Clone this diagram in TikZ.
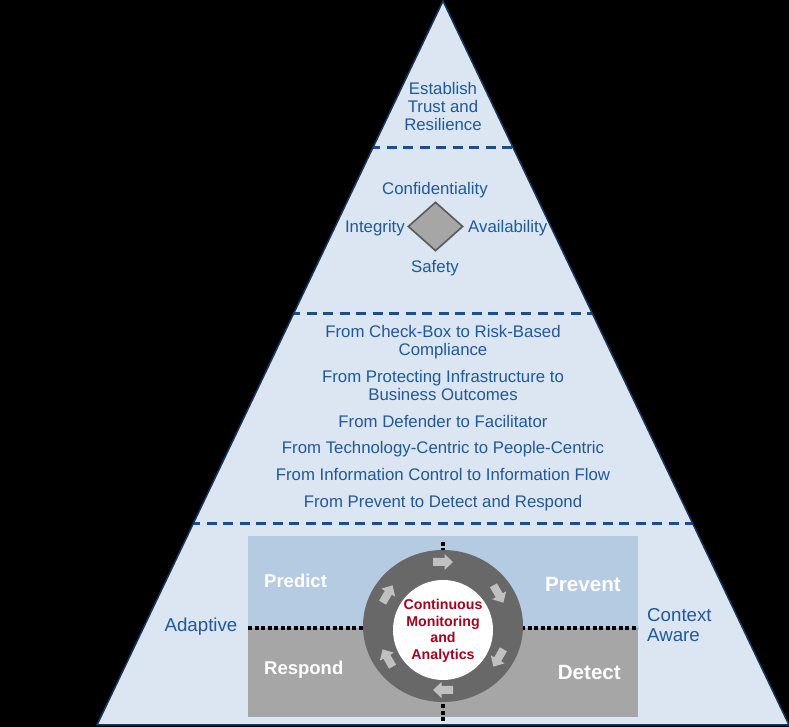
\documentclass[tikz,border=0pt]{standalone}
\usepackage{fontspec}
\setmainfont{Liberation Sans}
\usetikzlibrary{shapes.geometric}
\definecolor{bg}{RGB}{0,0,0}
\definecolor{trifill}{RGB}{220,230,242}
\definecolor{triedge}{RGB}{23,55,94}
\definecolor{dashcol}{RGB}{28,78,140}
\definecolor{txtblue}{RGB}{31,90,150}
\definecolor{boxblue}{RGB}{180,203,226}
\definecolor{boxgray}{RGB}{166,166,166}
\definecolor{ringgray}{RGB}{104,104,104}
\definecolor{arrgray}{RGB}{192,192,192}
\definecolor{cmared}{RGB}{166,0,33}
\definecolor{diafill}{RGB}{166,166,166}
\definecolor{diaedge}{RGB}{89,89,89}
\begin{document}
\begin{tikzpicture}[x=1pt,y=1pt,
  bluetxt/.style={text=txtblue,font=\fontsize{16.8}{18}\selectfont,align=center,inner sep=0pt,anchor=base},
  sidetxt/.style={text=txtblue,font=\fontsize{18.7}{20}\selectfont,align=left,inner sep=0pt},
  boxlabL/.style={text=white,font=\bfseries\fontsize{18.5}{20}\selectfont,inner sep=0pt},
  boxlabR/.style={text=white,font=\bfseries\fontsize{20.6}{22}\selectfont,inner sep=0pt},
  sep/.style={dashcol,line width=3pt,dash pattern=on 10pt off 6.5pt},
  dotline/.style={black,line width=4pt,dash pattern=on 4pt off 2.5pt}
]
\useasboundingbox (0,0) rectangle (789,727);
\fill[bg] (0,0) rectangle (789,727);
% triangle
\coordinate (apex) at (443,726);
\coordinate (bl) at (97,2);
\coordinate (br) at (789,2);
\fill[trifill] (apex) -- (bl) -- (br) -- cycle;
% separators
\begin{scope}
\clip (apex) -- (bl) -- (br) -- cycle;
\draw[sep] (370,579) -- (520,579);
\draw[sep] (290,413) -- (600,413);
\draw[sep] (190,203) -- (700,203);
\end{scope}
\draw[triedge,line width=1.5pt,line join=miter] (apex) -- (bl) -- (br) -- cycle;

% top tier
\node[bluetxt] (trust) at (443,596) {Establish\\Trust and\\Resilience};

% CIA tier
\node[diamond,draw=diaedge,fill=diafill,line width=1.6pt,minimum width=55pt,minimum height=49pt,inner sep=0pt] (dia) at (435.5,500.5) {};
\node[bluetxt] (conf) at (435,532) {Confidentiality};
\node[bluetxt,anchor=base east] (integ) at (405,494) {Integrity};
\node[bluetxt,anchor=base west] (avail) at (468,494) {Availability};
\node[bluetxt] (safety) at (435,454) {Safety};

% shifts tier
\node[bluetxt] (s1) at (443,371) {From Check-Box to Risk-Based\\Compliance};
\node[bluetxt] (s2) at (443,326) {From Protecting Infrastructure to\\Business Outcomes};
\node[bluetxt] (s3) at (443,299) {From Defender to Facilitator};
\node[bluetxt] (s4) at (443,273) {From Technology-Centric to People-Centric};
\node[bluetxt] (s5) at (443,246) {From Information Control to Information Flow};
\node[bluetxt] (s6) at (443,219) {From Prevent to Detect and Respond};

% bottom tier boxes
\fill[boxblue] (248,99) rectangle (638,191);
\fill[boxgray] (248,10) rectangle (638,99);
\draw[dotline] (248,99) -- (638,99);
\draw[dotline] (443,185) -- (443,3);

% ring
\fill[ringgray] (443,101) ellipse [x radius=80, y radius=76];
\foreach \a in {90,30,-30,-90,-150,150}{
  \begin{scope}[shift={(443,101)},rotate=\a-90]
    \fill[arrgray] (-10,60) -- (1.5,60) -- (1.5,56) -- (10,64) -- (1.5,72) -- (1.5,68) -- (-10,68) -- cycle;
  \end{scope}
}
\node[circle,fill=white,minimum size=100pt,inner sep=0pt] (hub) at (443,97) {};
\node[text=cmared,font=\bfseries\fontsize{14.2}{16.5}\selectfont,align=center,inner sep=0pt] (cma) at (443,96) {Continuous\\Monitoring\\and\\Analytics};

\node[boxlabL,anchor=west] (predict) at (264,146) {Predict};
\node[boxlabR,anchor=east] (prevent) at (621,142) {Prevent};
\node[boxlabL,anchor=west] (respond) at (264,57) {Respond};
\node[boxlabR,anchor=east] (detect) at (621,54) {Detect};

\node[sidetxt,anchor=base] (adaptive) at (201,95) {Adaptive};
\node[sidetxt,anchor=base west] (context) at (647,85.5) {Context\\Aware};
\end{tikzpicture}
\end{document}
